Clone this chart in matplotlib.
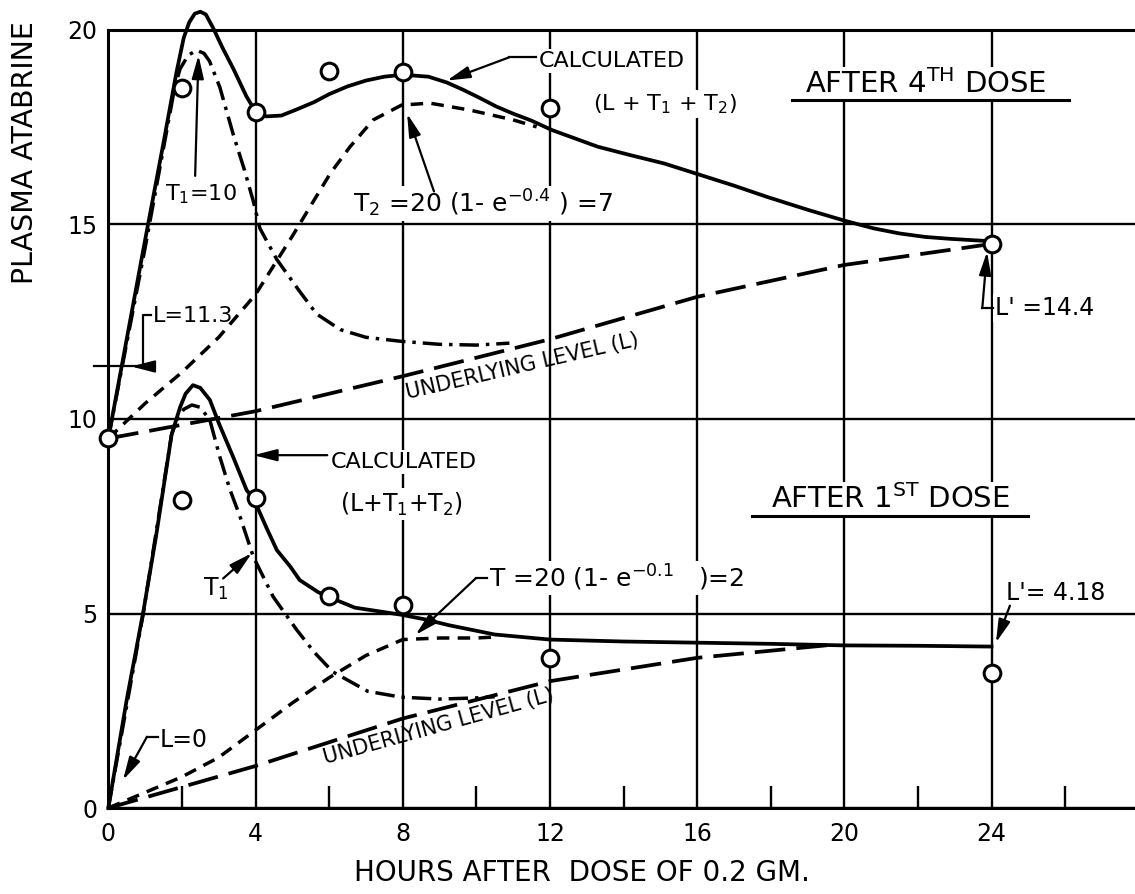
import matplotlib
matplotlib.use("Agg")
import matplotlib.pyplot as plt

plt.rcParams['font.family'] = ['DejaVu Sans']
plt.rcParams['mathtext.fontset'] = 'dejavusans'
plt.rcParams['lines.scale_dashes'] = False

# ---- after 4th dose (upper family) ----
calc4_h = [0, 0.5, 1.0, 1.5, 1.85, 2.05, 2.2, 2.35, 2.5, 2.65, 2.85, 3.1, 3.4, 3.75, 4.0,
           4.3, 4.7, 5.1, 5.6, 6.0, 6.5, 7.0, 7.5, 8.0, 8.7, 9.2, 9.65, 10.1, 10.55, 11.0,
           11.5, 12.05, 13.3, 14.2, 15.1, 16.0, 17.0, 17.9, 19.0, 20.0, 20.8, 21.5, 22.2,
           22.9, 23.8, 24.0]
calc4_v = [9.5, 12.05, 14.6, 17.1, 18.9, 19.8, 20.2, 20.42, 20.47, 20.4, 20.05, 19.55, 19.0,
           18.3, 17.9, 17.78, 17.8, 17.95, 18.15, 18.35, 18.55, 18.7, 18.8, 18.85, 18.8,
           18.65, 18.46, 18.25, 18.03, 17.85, 17.67, 17.43, 17.0, 16.78, 16.57, 16.3, 16.0,
           15.71, 15.38, 15.1, 14.9, 14.77, 14.68, 14.63, 14.58, 14.52]

t1_4_h = [0, 1.0, 1.8, 1.95, 2.17, 2.4, 2.6, 2.75, 3.03, 3.4, 3.7, 3.94, 4.12, 4.58, 5.2,
          5.66, 6.3, 7.0, 7.93, 9.0, 10.0, 10.9]
t1_4_v = [9.5, 14.4, 18.5, 19.0, 19.35, 19.48, 19.4, 19.2, 18.53, 17.3, 16.4, 15.6, 14.9,
          14.1, 13.28, 12.7, 12.3, 12.1, 12.0, 11.92, 11.9, 11.95]

t2_4_h = [0, 1, 2, 3, 4, 5, 6.03, 6.57, 7.2, 7.97, 8.74, 9.83, 11.0, 11.64]
t2_4_v = [9.5, 10.4, 11.2, 12.1, 13.2, 14.7, 16.31, 17.0, 17.69, 18.07, 18.12, 17.94, 17.69, 17.51]

lvl4_h = [0, 4, 8, 12, 16, 20, 24]
lvl4_v = [9.5, 10.2, 11.1, 12.05, 13.14, 13.96, 14.5]

obs4_h = [0, 2, 4, 6, 8, 12, 24]
obs4_v = [9.5, 18.5, 17.9, 18.95, 18.93, 17.99, 14.5]

# ---- after 1st dose (lower family) ----
calc1_h = [0, 0.5, 0.95, 1.3, 1.72, 1.95, 2.1, 2.3, 2.5, 2.76, 3.0, 3.39, 3.76, 3.95, 4.3,
           4.58, 4.95, 5.2, 5.7, 6.0, 6.7, 7.95, 8.6, 9.25, 10.5, 12, 14, 16, 18, 20, 22, 24]
calc1_v = [0, 2.78, 5.04, 7.0, 9.6, 10.3, 10.65, 10.87, 10.8, 10.49, 9.9, 9.03, 8.17, 7.95,
           7.2, 6.63, 6.2, 5.86, 5.55, 5.42, 5.15, 4.97, 4.85, 4.7, 4.46, 4.33, 4.28, 4.25,
           4.22, 4.18, 4.17, 4.15]

t1_1_h = [0, 0.95, 1.72, 1.86, 2.05, 2.27, 2.5, 2.76, 3.03, 3.3, 3.58, 3.94, 4.48, 5.12,
          5.6, 6.1, 7.05, 7.95, 9.0, 10.0, 10.5]
t1_1_v = [0, 5.0, 9.6, 9.97, 10.25, 10.36, 10.3, 9.97, 9.03, 8.2, 7.49, 6.46, 5.43, 4.58,
          4.0, 3.5, 3.0, 2.85, 2.8, 2.83, 2.86]

t2_1_h = [0, 1, 2, 3, 4, 5, 6, 7, 8, 9, 10, 10.6]
t2_1_v = [0, 0.4, 0.8, 1.3, 2.0, 2.7, 3.35, 3.92, 4.33, 4.37, 4.37, 4.4]

lvl1_h = [0, 4, 8, 12, 16, 19.6]
lvl1_v = [0, 1.08, 2.3, 3.26, 3.86, 4.19]

obs1_h = [2, 4, 6, 8, 12, 24]
obs1_v = [7.92, 7.96, 5.45, 5.23, 3.86, 3.46]

x_major = [0, 4, 8, 12, 16, 20, 24, 28]
x_labels = ['0', '4', '8', '12', '16', '20', '24', '']
x_minor = [2, 6, 10, 14, 18, 22, 26]
y_major = [0, 5, 10, 15, 20]

fig = plt.figure(figsize=(11.35, 8.94), dpi=100)
ax = fig.add_axes([108.3 / 1135, 86 / 894, 1030.4 / 1135, 778 / 894])
ax.set_xlim(0, 28)
ax.set_ylim(0, 20)

ax.set_xticks(x_major)
ax.set_xticklabels(x_labels)
ax.set_xticks(x_minor, minor=True)
ax.set_yticks(y_major)
ax.grid(True, which='major', color='k', lw=1.7)
ax.set_axisbelow(True)
ax.tick_params(which='major', length=0, labelsize=17)
ax.tick_params(axis='x', which='major', pad=10)
ax.tick_params(axis='y', which='major', pad=8)
ax.tick_params(axis='x', which='minor', direction='in', length=16, width=1.7)
for s in ax.spines.values():
    s.set_linewidth(2.2)

solid = dict(color='k', lw=2.7, clip_on=False, zorder=3)
dash = dict(color='k', lw=2.5, dashes=(9, 6), clip_on=False, zorder=3)
dashdot = dict(color='k', lw=2.5, dashes=(14, 5, 2.5, 5), clip_on=False, zorder=3)
longdash = dict(color='k', lw=2.7, dashes=(22, 8), clip_on=False, zorder=3)

for h, v in [(t1_4_h, t1_4_v), (t1_1_h, t1_1_v)]:
    ax.plot(h, v, **dashdot)
for h, v in [(t2_4_h, t2_4_v), (t2_1_h, t2_1_v)]:
    ax.plot(h, v, **dash)
for h, v in [(lvl4_h, lvl4_v), (lvl1_h, lvl1_v)]:
    ax.plot(h, v, **longdash)
for h, v in [(calc4_h, calc4_v), (calc1_h, calc1_v)]:
    ax.plot(h, v, **solid)

for h, v in [(obs4_h, obs4_v), (obs1_h, obs1_v)]:
    ax.plot(h, v, 'o', ms=12, mfc='white', mec='k', mew=2.2, clip_on=False, zorder=4)

box = dict(fc='white', ec='none', pad=1.5)
txt = dict(color='k', va='baseline', bbox=box, zorder=2.5)
ap = dict(arrowstyle='-|>,head_length=0.7,head_width=0.18', color='k', lw=1.6,
          shrinkA=0, shrinkB=0, mutation_scale=20)
lead = dict(color='k', lw=1.6, clip_on=False, zorder=3)


def arrow(tail, tip):
    ax.annotate('', xy=tip, xytext=tail, arrowprops=ap, zorder=3, annotation_clip=False)


sub = lambda s: r'$_{\mathregular{%s}}$' % s
sup = lambda s: r'$^{\mathregular{%s}}$' % s

# upper annotations
ax.text(1.54, 15.63, 'T' + sub('1') + '=10', fontsize=16, **txt)
arrow((2.36, 16.25), (2.45, 19.35))

ax.text(11.69, 19.06, 'CALCULATED', fontsize=16, **txt)
ax.text(13.17, 17.94, '(L + T' + sub('1') + ' + T' + sub('2') + ')', fontsize=16, **txt)
ax.plot([11.62, 10.9], [19.3, 19.3], **lead)
arrow((10.9, 19.3), (9.2, 18.7))

ax.text(6.65, 15.3, 'T' + sub('2') + ' =20 (1- e' + sup('-0.4') + ' ) =7', fontsize=18, **txt)
arrow((8.85, 15.85), (8.12, 17.85))

ax.text(18.93, 18.37, 'AFTER 4' + sup('TH') + ' DOSE', fontsize=21, **txt)
ax.plot([18.57, 26.1], [18.19, 18.19], color='k', lw=2.2, zorder=3)

ax.text(24.1, 12.67, "L' =14.4", fontsize=17, **txt)
ax.plot([24.05, 23.75], [12.85, 12.85], **lead)
arrow((23.75, 12.85), (23.88, 14.3))

ax.text(1.22, 12.5, 'L=11.3', fontsize=16, **txt)
ax.plot([1.15, 0.95, 0.95, -0.4], [12.67, 12.67, 11.35, 11.35], **lead)
arrow((0.95, 11.35), (0.62, 11.35))

ax.text(11.2, 11.6, 'UNDERLYING LEVEL (L)', fontsize=15, rotation=13,
        rotation_mode='anchor', ha='center', va='top', zorder=2.5)

# lower annotations
ax.text(6.05, 8.74, 'CALCULATED', fontsize=16, **txt)
arrow((5.95, 9.07), (3.95, 9.07))
ax.text(6.3, 7.62, '(L+T' + sub('1') + '+T' + sub('2') + ')', fontsize=17, **txt)

ax.text(2.58, 5.45, 'T' + sub('1'), fontsize=17, **txt)
arrow((3.12, 5.9), (3.9, 6.55))

ax.text(10.35, 5.68, 'T =20 (1- e' + sup('-0.1') + '   )=2', fontsize=18, **txt)
ax.plot([10.3, 9.98], [5.9, 5.9], **lead)
arrow((9.98, 5.9), (8.35, 4.45))

ax.text(24.4, 5.35, "L'= 4.18", fontsize=17, **txt)
arrow((24.5, 5.2), (24.12, 4.25))

ax.text(1.4, 1.57, 'L=0', fontsize=17, **txt)
ax.plot([1.35, 1.05], [1.83, 1.83], **lead)
arrow((1.05, 1.83), (0.4, 0.72))

ax.text(18.0, 7.71, 'AFTER 1' + sup('ST') + ' DOSE', fontsize=21, **txt)
ax.plot([17.5, 25.0], [7.5, 7.5], color='k', lw=2.2, zorder=3)

ax.text(8.9, 2.35, 'UNDERLYING LEVEL (L)', fontsize=15, rotation=15.5,
        rotation_mode='anchor', ha='center', va='top', zorder=2.5)

# axis titles
fig.text(582 / 1135, 1 - 873 / 894, 'HOURS AFTER  DOSE OF 0.2 GM.', fontsize=20,
         ha='center', va='center')
fig.text(25 / 1135, 1 - 284 / 894, 'PLASMA ATABRINE', fontsize=20.5, rotation=90,
         ha='center', va='bottom')

fig.savefig('out.png', dpi=100)
